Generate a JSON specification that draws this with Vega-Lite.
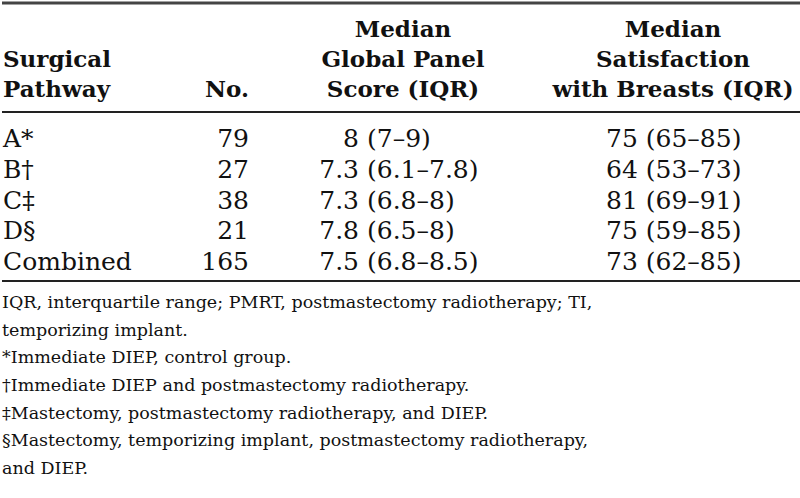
{
  "$schema": "https://vega.github.io/schema/vega-lite/v6.json",
  "width": 800,
  "height": 498,
  "padding": 0,
  "autosize": {"type": "fit", "contains": "padding"},
  "background": "white",
  "config": {"view": {"stroke": null}, "text": {"font": "DejaVu Serif", "color": "#111"}},
  "datasets": {
    "rows": [
      {"pathway": "A*", "n": 79, "gpsMed": "8", "gpsIqr": "(7–9)", "sat": "75 (65–85)"},
      {"pathway": "B†", "n": 27, "gpsMed": "7.3", "gpsIqr": "(6.1–7.8)", "sat": "64 (53–73)"},
      {"pathway": "C‡", "n": 38, "gpsMed": "7.3", "gpsIqr": "(6.8–8)", "sat": "81 (69–91)"},
      {"pathway": "D§", "n": 21, "gpsMed": "7.8", "gpsIqr": "(6.5–8)", "sat": "75 (59–85)"},
      {"pathway": "Combined", "n": 165, "gpsMed": "7.5", "gpsIqr": "(6.8–8.5)", "sat": "73 (62–85)"}
    ],
    "headers": [
      {"col": "pathway", "line": 2, "label": "Surgical"},
      {"col": "pathway", "line": 3, "label": "Pathway"},
      {"col": "n", "line": 3, "label": "No."},
      {"col": "gps", "line": 1, "label": "Median"},
      {"col": "gps", "line": 2, "label": "Global Panel"},
      {"col": "gps", "line": 3, "label": "Score (IQR)"},
      {"col": "sat", "line": 1, "label": "Median"},
      {"col": "sat", "line": 2, "label": "Satisfaction"},
      {"col": "sat", "line": 3, "label": "with Breasts (IQR)"}
    ],
    "notes": [
      {"k": 1, "note": "IQR, interquartile range; PMRT, postmastectomy radiotherapy; TI,"},
      {"k": 2, "note": "temporizing implant."},
      {"k": 3, "note": "*Immediate DIEP, control group."},
      {"k": 4, "note": "†Immediate DIEP and postmastectomy radiotherapy."},
      {"k": 5, "note": "‡Mastectomy, postmastectomy radiotherapy, and DIEP."},
      {"k": 6, "note": "§Mastectomy, temporizing implant, postmastectomy radiotherapy,"},
      {"k": 7, "note": "and DIEP."}
    ],
    "one": [{}]
  },
  "resolve": {"scale": {"y": "independent"}},
  "layer": [
    {"data": {"name": "one"}, "mark": {"type": "rule", "strokeWidth": 3, "color": "#444"},
     "encoding": {"x": {"value": 0}, "x2": {"value": 800}, "y": {"value": 3}}},
    {"data": {"name": "one"}, "mark": {"type": "rule", "strokeWidth": 2, "color": "#222"},
     "encoding": {"x": {"value": 0}, "x2": {"value": 800}, "y": {"value": 112}}},
    {"data": {"name": "one"}, "mark": {"type": "rule", "strokeWidth": 2, "color": "#222"},
     "encoding": {"x": {"value": 0}, "x2": {"value": 800}, "y": {"value": 281}}},
    {"data": {"name": "headers"},
     "transform": [{"filter": "datum.col === 'pathway'"}],
     "mark": {"type": "text", "align": "left", "baseline": "middle", "fontSize": 23, "fontWeight": "bold"},
     "encoding": {"x": {"value": 1},
       "y": {"field": "line", "type": "ordinal", "scale": {"type": "point", "domain": [1, 2, 3], "range": [30, 90], "padding": 0}, "axis": null},
       "text": {"field": "label"}}},
    {"data": {"name": "headers"},
     "transform": [{"filter": "datum.col === 'n'"}],
     "mark": {"type": "text", "align": "right", "baseline": "middle", "fontSize": 23, "fontWeight": "bold"},
     "encoding": {"x": {"value": 247},
       "y": {"field": "line", "type": "ordinal", "scale": {"type": "point", "domain": [1, 2, 3], "range": [30, 90], "padding": 0}, "axis": null},
       "text": {"field": "label"}}},
    {"data": {"name": "headers"},
     "transform": [{"filter": "datum.col === 'gps'"}],
     "mark": {"type": "text", "align": "center", "baseline": "middle", "fontSize": 23, "fontWeight": "bold"},
     "encoding": {"x": {"value": 401},
       "y": {"field": "line", "type": "ordinal", "scale": {"type": "point", "domain": [1, 2, 3], "range": [30, 90], "padding": 0}, "axis": null},
       "text": {"field": "label"}}},
    {"data": {"name": "headers"},
     "transform": [{"filter": "datum.col === 'sat'"}],
     "mark": {"type": "text", "align": "center", "baseline": "middle", "fontSize": 23, "fontWeight": "bold"},
     "encoding": {"x": {"value": 671},
       "y": {"field": "line", "type": "ordinal", "scale": {"type": "point", "domain": [1, 2, 3], "range": [30, 90], "padding": 0}, "axis": null},
       "text": {"field": "label"}}},
    {"data": {"name": "rows"},
     "mark": {"type": "text", "align": "left", "baseline": "middle", "fontSize": 25},
     "encoding": {"x": {"value": 1},
       "y": {"field": "pathway", "type": "nominal", "sort": null, "scale": {"type": "point", "domain": ["A*", "B†", "C‡", "D§", "Combined"], "range": [139, 262], "padding": 0}, "axis": null},
       "text": {"field": "pathway"}}},
    {"data": {"name": "rows"},
     "mark": {"type": "text", "align": "right", "baseline": "middle", "fontSize": 25},
     "encoding": {"x": {"value": 247},
       "y": {"field": "pathway", "type": "nominal", "sort": null, "scale": {"type": "point", "domain": ["A*", "B†", "C‡", "D§", "Combined"], "range": [139, 262], "padding": 0}, "axis": null},
       "text": {"field": "n"}}},
    {"data": {"name": "rows"},
     "mark": {"type": "text", "align": "right", "baseline": "middle", "fontSize": 25},
     "encoding": {"x": {"value": 357},
       "y": {"field": "pathway", "type": "nominal", "sort": null, "scale": {"type": "point", "domain": ["A*", "B†", "C‡", "D§", "Combined"], "range": [139, 262], "padding": 0}, "axis": null},
       "text": {"field": "gpsMed"}}},
    {"data": {"name": "rows"},
     "mark": {"type": "text", "align": "left", "baseline": "middle", "fontSize": 25},
     "encoding": {"x": {"value": 365},
       "y": {"field": "pathway", "type": "nominal", "sort": null, "scale": {"type": "point", "domain": ["A*", "B†", "C‡", "D§", "Combined"], "range": [139, 262], "padding": 0}, "axis": null},
       "text": {"field": "gpsIqr"}}},
    {"data": {"name": "rows"},
     "mark": {"type": "text", "align": "left", "baseline": "middle", "fontSize": 25},
     "encoding": {"x": {"value": 604},
       "y": {"field": "pathway", "type": "nominal", "sort": null, "scale": {"type": "point", "domain": ["A*", "B†", "C‡", "D§", "Combined"], "range": [139, 262], "padding": 0}, "axis": null},
       "text": {"field": "sat"}}},
    {"data": {"name": "notes"},
     "mark": {"type": "text", "align": "left", "baseline": "middle", "fontSize": 17.5},
     "encoding": {"x": {"value": 0},
       "y": {"field": "k", "type": "ordinal", "scale": {"type": "point", "domain": [1, 2, 3, 4, 5, 6, 7], "range": [303, 469], "padding": 0}, "axis": null},
       "text": {"field": "note"}}}
  ]
}
